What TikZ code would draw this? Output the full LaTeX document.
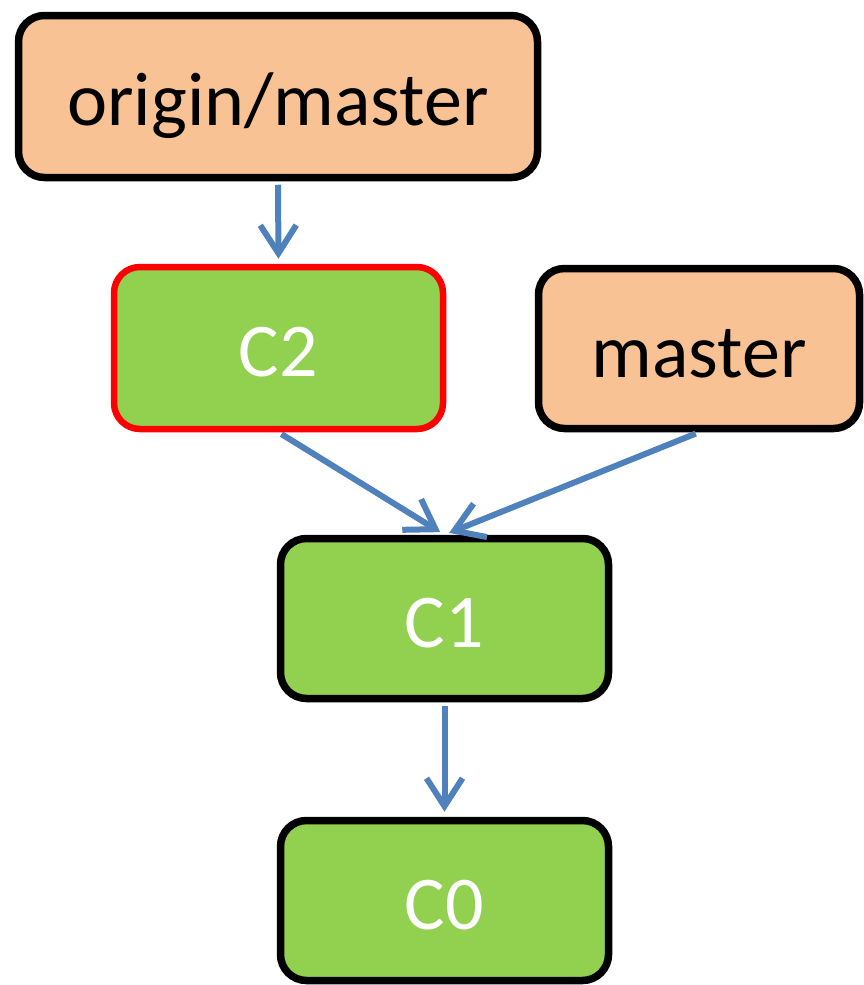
\documentclass[tikz,border=0pt]{standalone}
\usepackage{fontspec}
\setmainfont{Carlito}
\usetikzlibrary{arrows.meta}
\definecolor{peach}{HTML}{F9C294}
\definecolor{leaf}{HTML}{92D050}
\definecolor{arrowblue}{HTML}{4F81BD}
\newcommand{\lowtext}[1]{\raisebox{-28.5pt}[0pt][0pt]{#1}}
\tikzset{
  box/.style={draw=black, line width=7.5pt, rounded corners=26pt, inner sep=0pt,
    font=\fontsize{76}{90}\selectfont},
  branchbox/.style={box, fill=peach, text=black},
  commitbox/.style={box, fill=leaf, text=white},
  link/.style={draw=arrowblue, line width=6pt,
    -{Straight Barb[length=28pt, width=36pt]}, shorten <=3.5pt, shorten >=5pt},
}
\begin{document}
\begin{tikzpicture}[x=1pt, y=-1pt]
\useasboundingbox (0,0) rectangle (864,985);
\node[branchbox, minimum width=519pt, minimum height=162pt] (om) at (278,96.5) {\lowtext{origin/master}};
\node[commitbox, draw=red, line width=6.5pt, minimum width=329pt, minimum height=162pt] (c2) at (278.5,348) {\lowtext{C2}};
\node[branchbox, minimum width=321pt, minimum height=160pt] (ma) at (699,348.5) {\lowtext{master}};
\node[commitbox, minimum width=328pt, minimum height=160pt] (c1) at (444.5,618.5) {\lowtext{C1}};
\node[commitbox, minimum width=328pt, minimum height=160pt] (c0) at (444.5,900.5) {\lowtext{C0}};
\draw[link] (om.south) -- (c2.north);
\draw[link] (c2.south) -- (c1.north);
\draw[link] (ma.south) -- (c1.north);
\draw[link] (c1.south) -- (c0.north);
\end{tikzpicture}
\end{document}
